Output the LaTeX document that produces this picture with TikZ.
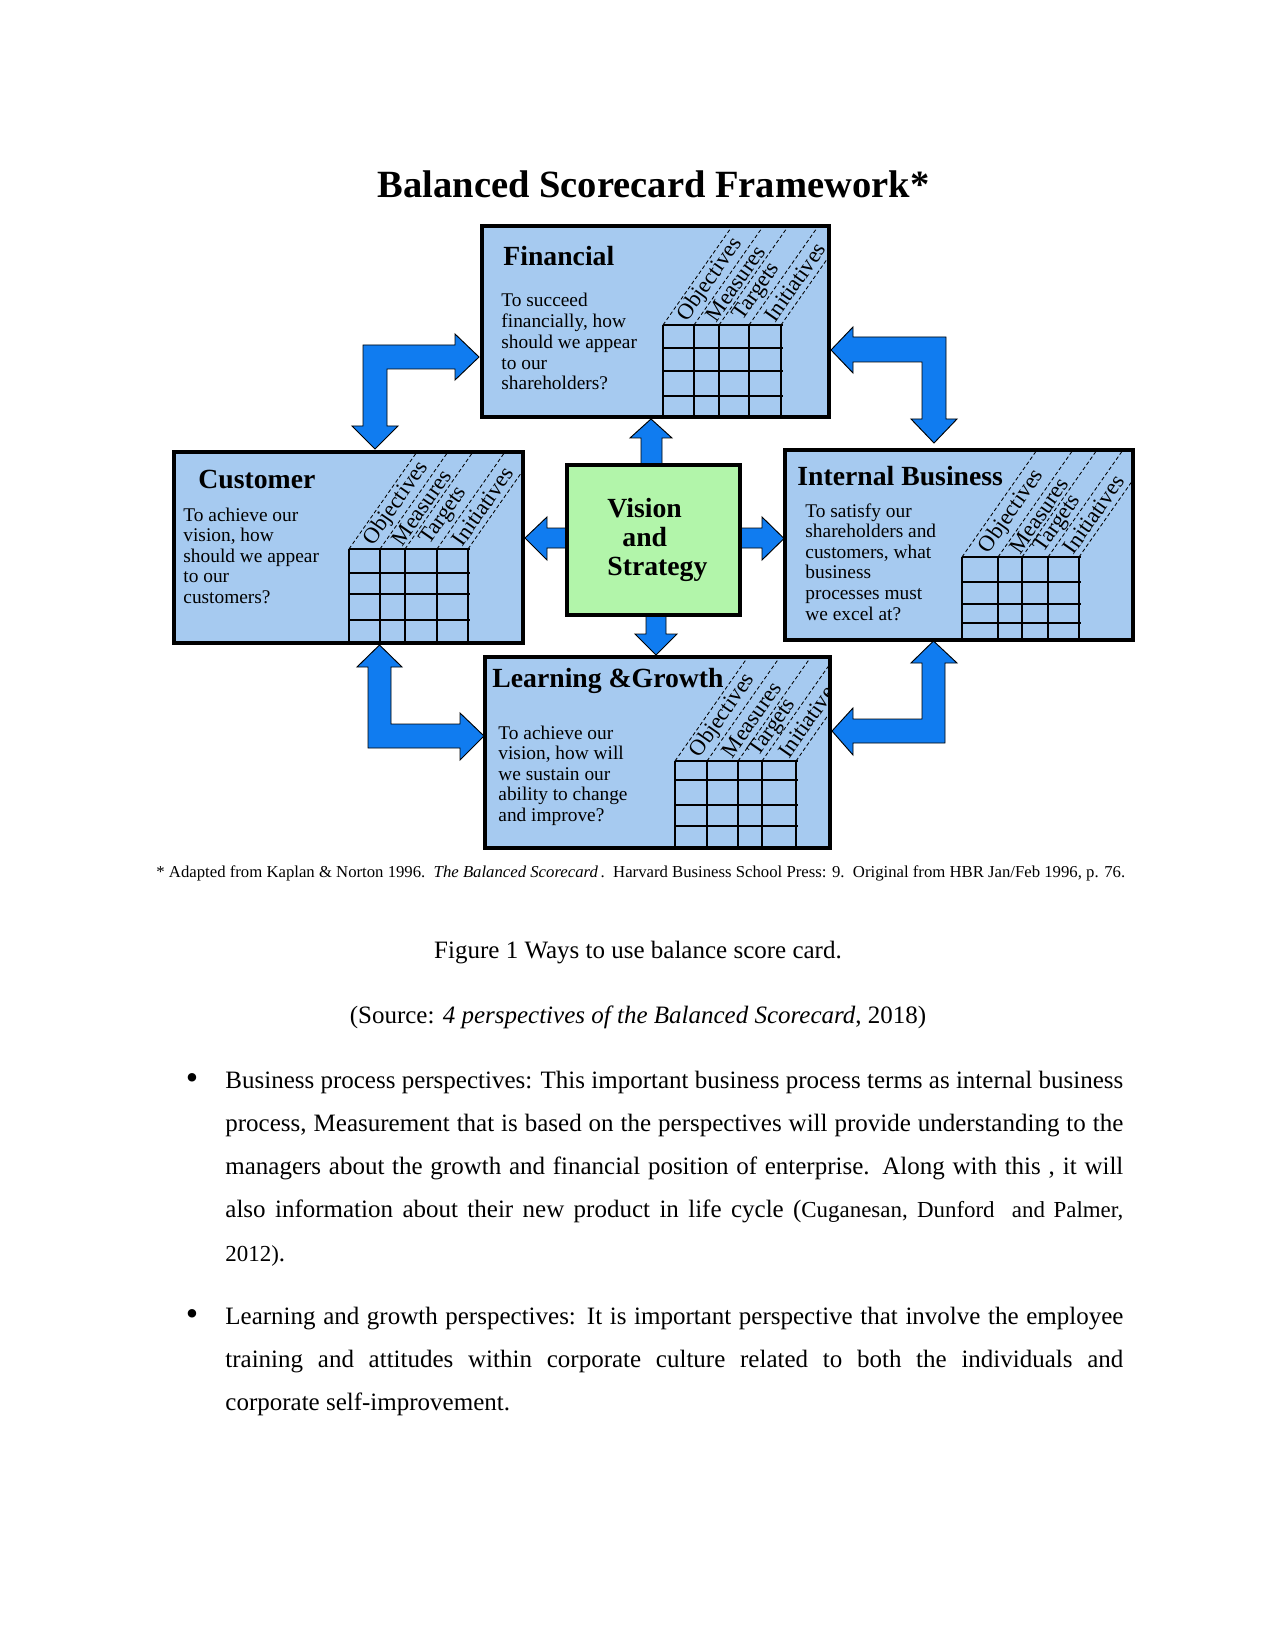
\documentclass[tikz,border=0pt]{standalone}
\usepackage{fontspec}
\setmainfont{Liberation Serif}
\usepackage{graphicx}
\definecolor{boxblue}{RGB}{166,202,240}
\definecolor{visgreen}{RGB}{178,245,170}
\definecolor{arrblue}{RGB}{16,124,240}
\tikzset{
  box/.style={draw=black, line width=1.9pt, fill=boxblue},
  visbox/.style={draw=black, line width=1.5pt, fill=visgreen},
  blockarrow/.style={draw=black, line width=0.45pt, fill=arrblue, line join=miter},
  gridline/.style={draw=black, line width=0.7pt},
  slant/.style={draw=black, line width=0.4pt, dash pattern=on 1.8pt off 1.2pt},
  headtext/.style={font=\fontsize{13.3}{15}\selectfont\bfseries, inner sep=0pt, anchor=base west},
  qtext/.style={font=\fontsize{9.3}{11}\selectfont, inner sep=0pt, anchor=base west},
  lbl/.style={font=\fontsize{10.8}{12}\selectfont, inner sep=0pt, anchor=west, rotate=55},
  bodytext/.style={font=\fontsize{12}{14}\selectfont, inner sep=0pt, anchor=base west},
  bul/.style={font=\fontsize{17}{18}\selectfont, inner sep=0pt, anchor=base},
}
\begin{document}
\begin{tikzpicture}[x=0.48pt,y=-0.48pt]
\fill[white] (0,0) rectangle (1275,1650);
\useasboundingbox (0,0) rectangle (1275,1650);

% title
\node[font=\fontsize{18.5}{22}\selectfont\bfseries, anchor=base, inner sep=0pt] (title) at (653.5,198) {Balanced Scorecard Framework*};

% ---------- block arrows ----------
% top-left (customer <-> financial)
\draw[blockarrow] (363,345) -- (455,345) -- (455,334) -- (479,357) -- (455,380) -- (455,369) -- (387,369) -- (387,426) -- (398,426) -- (375,449) -- (352,426) -- (363,426) -- cycle;
% top-right (financial <-> internal)
\draw[blockarrow] (946,337) -- (853,337) -- (853,327) -- (831,350) -- (853,373) -- (853,362) -- (922,362) -- (922,419) -- (911,419) -- (934,443) -- (957,419) -- (946,419) -- cycle;
% bottom-left (customer <-> learning)
\draw[blockarrow] (368,748) -- (460,748) -- (460,760) -- (484,736) -- (460,713) -- (460,724) -- (391,724) -- (391,667) -- (402,667) -- (379.5,645) -- (357,667) -- (368,667) -- cycle;
% bottom-right (internal <-> learning)
\draw[blockarrow] (945,743) -- (853,743) -- (853,755) -- (832,731) -- (853,708) -- (853,719) -- (922,719) -- (922,663) -- (911,663) -- (933.5,641) -- (957,663) -- (945,663) -- cycle;
% vision arrows
\draw[blockarrow] (641,464) -- (641,438) -- (630,438) -- (651,419) -- (672,438) -- (662,438) -- (662,464) -- cycle;
\draw[blockarrow] (646,616) -- (646,634) -- (635,634) -- (656,655) -- (677,634) -- (666,634) -- (666,616) -- cycle;
\draw[blockarrow] (566,528) -- (547,528) -- (547,517) -- (525,538) -- (547,560) -- (547,548) -- (566,548) -- cycle;
\draw[blockarrow] (741,528) -- (762,528) -- (762,517) -- (784,538.5) -- (762,560) -- (762,548) -- (741,548) -- cycle;

% ---------- Financial ----------
\fill[boxblue] (482,226) rectangle (829,417);
\begin{scope}
\clip (484,228) rectangle (827,415);
\foreach \c in {663,694,719,749,781} \draw[gridline] (\c,325) -- (\c,417);
\foreach \r in {325,348,371,396} \draw[gridline] (663,\r) -- (783,\r);
\foreach \c in {663,694,719,749,781} \draw[slant] (\c,325) -- ++(114.7,-163.8);
\node[lbl] (finO) at (682.5,319.3) {Objectives};
\node[lbl] (finM) at (710.5,319.3) {Measures};
\node[lbl] (finT) at (738,319.3) {Targets};
\node[lbl] (finI) at (769,319.3) {Initiatives};
\end{scope}
\draw[box, fill=none] (482,226) rectangle (829,417);
\node[headtext] (finH) at (503,266) {Financial};
\foreach \t [count=\i from 0] in {To succeed, {financially, how}, should we appear, to our, shareholders?}
  \node[qtext] (finq\i) at (501, 307+20.7*\i) {\t};

% ---------- Customer ----------
\fill[boxblue] (174,452) rectangle (523,643);
\begin{scope}
\clip (176,454) rectangle (521,641);
\foreach \c in {349,380,405,437,468} \draw[gridline] (\c,549) -- (\c,643);
\foreach \r in {549,573,594,620} \draw[gridline] (349,\r) -- (470,\r);
\foreach \c in {349,380,405,437,468} \draw[slant] (\c,549) -- ++(114.7,-163.8);
\node[lbl] (cusO) at (368.5,543.3) {Objectives};
\node[lbl] (cusM) at (396.5,543.3) {Measures};
\node[lbl] (cusT) at (425,543.3) {Targets};
\node[lbl] (cusI) at (456.5,543.3) {Initiatives};
\end{scope}
\draw[box, fill=none] (174,452) rectangle (523,643);
\node[headtext] (cusH) at (198,488) {Customer};
\foreach \t [count=\i from 0] in {To achieve our, {vision, how}, should we appear, to our, customers?}
  \node[qtext] (cusq\i) at (183, 521+20.5*\i) {\t};

% ---------- Internal Business ----------
\fill[boxblue] (785,450) rectangle (1133,640);
\begin{scope}
\clip (787,452) rectangle (1131,638);
\foreach \c in {962,998,1022,1048,1079} \draw[gridline] (\c,557) -- (\c,640);
\foreach \r in {557,582,604,623} \draw[gridline] (962,\r) -- (1081,\r);
\foreach \c in {962,998,1022,1048,1079} \draw[slant] (\c,557) -- ++(114.7,-163.8);
\node[lbl] (intO) at (984,551.3) {Objectives};
\node[lbl] (intM) at (1014,551.3) {Measures};
\node[lbl] (intT) at (1039,551.3) {Targets};
\node[lbl] (intI) at (1067.5,551.3) {Initiatives};
\end{scope}
\draw[box, fill=none] (785,450) rectangle (1133,640);
\node[headtext] (intH) at (797,486) {Internal Business};
\foreach \t [count=\i from 0] in {To satisfy our, shareholders and, {customers, what}, business, processes must, we excel at?}
  \node[qtext] (intq\i) at (805, 517+20.6*\i) {\t};

% ---------- Learning & Growth ----------
\fill[boxblue] (485,657) rectangle (830,848);
\begin{scope}
\clip (487,659) rectangle (828,846);
\foreach \c in {675,707,738,762,796} \draw[gridline] (\c,761) -- (\c,848);
\foreach \r in {761,780,805,826} \draw[gridline] (675,\r) -- (798,\r);
\foreach \c in {675,707,738,762,796} \draw[slant] (\c,761) -- ++(114.7,-163.8);
\node[lbl] (lrnO) at (695,755.3) {Objectives};
\node[lbl] (lrnM) at (726.5,755.3) {Measures};
\node[lbl] (lrnT) at (754,755.3) {Targets};
\node[lbl] (lrnI) at (783,755.3) {Initiatives};
\end{scope}
\draw[box, fill=none] (485,657) rectangle (830,848);
\node[headtext] (lrnH) at (492,687) {Learning \&Growth};
\foreach \t [count=\i from 0] in {To achieve our, {vision, how will}, we sustain our, ability to change, and improve?}
  \node[qtext] (lrnq\i) at (498, 739+20.5*\i) {\t};

% ---------- Vision and Strategy ----------
\draw[visbox] (567,465) rectangle (740,615);
\node[headtext] (vis1) at (607,517) {Vision};
\node[headtext] (vis2) at (622,546) {and};
\node[headtext] (vis3) at (607,575) {Strategy};

% footnote
\node[anchor=base west, inner sep=0pt, font=\fontsize{8}{10}\selectfont] (foot) at (156,877)
  {\resizebox{465pt}{\height}{* Adapted from Kaplan \& Norton 1996.\ \ \textit{The Balanced Scorecard}\,.\ \ Harvard Business School Press: 9.\ \ Original from HBR Jan/Feb 1996, p. 76.}};

% caption
\node[bodytext, anchor=base] (cap) at (638,958) {Figure 1 Ways to use balance score card.};
\node[bodytext, anchor=base] (src) at (638,1023) {(Source: \textit{4 perspectives of the Balanced Scorecard}, 2018)};

% bullets and body
\node[bul] (b1) at (192,1089) {\textbullet};
\node[bodytext] (p1l1) at (225,1088) {\makebox[431pt][s]{Business process perspectives: This important business process terms as internal business}};
\node[bodytext] (p1l2) at (225,1131.3) {\makebox[431pt][s]{process, Measurement that is based on the perspectives will provide understanding to the}};
\node[bodytext] (p1l3) at (225,1174.5) {\makebox[431pt][s]{managers about the growth and financial position of enterprise. Along with this , it will}};
\node[bodytext] (p1l4) at (225,1217.7) {\makebox[431pt][s]{also information about their new product in life cycle ({\fontsize{11}{13}\selectfont Cuganesan, Dunford \ and Palmer,}}};
\node[bodytext] (p1l5) at (225,1261) {{\fontsize{11}{13}\selectfont 2012)}.};

\node[bul] (b2) at (192,1325) {\textbullet};
\node[bodytext] (p2l1) at (225,1324) {\makebox[431pt][s]{Learning and growth perspectives: It is important perspective that involve the employee}};
\node[bodytext] (p2l2) at (225,1367.2) {\makebox[431pt][s]{training and attitudes within corporate culture related to both the individuals and}};
\node[bodytext] (p2l3) at (225,1410.4) {corporate self-improvement.};
\end{tikzpicture}
\end{document}
